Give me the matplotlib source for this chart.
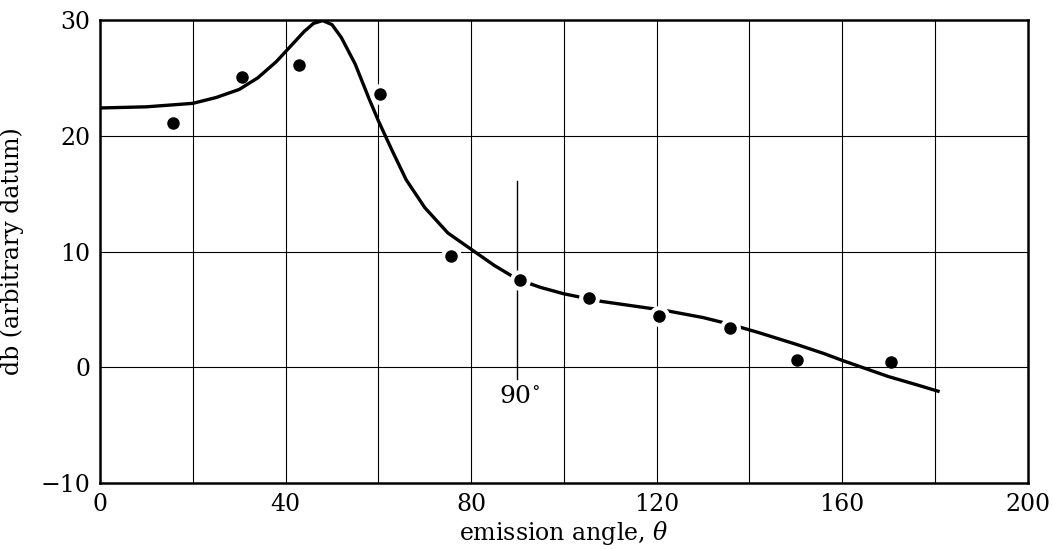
import matplotlib
matplotlib.use('Agg')
import matplotlib.pyplot as plt

# Measured dots
angle_pts = [15.7, 30.7, 42.9, 60.3, 75.6, 90.5, 105.5, 120.5, 135.9, 150.2, 170.5]
db_pts = [21.1, 25.1, 26.1, 23.6, 9.65, 7.55, 6.0, 4.4, 3.4, 0.65, 0.5]

# Smooth curve
angle_curve = [0, 10, 20, 25, 30, 34, 38, 41, 44, 46, 48, 50, 52, 55, 58, 60, 63,
               66, 70, 75, 80, 85, 90, 95, 100, 108, 115, 122, 130, 136, 142, 150,
               156, 160, 165, 170, 176, 181]
db_curve = [22.4, 22.5, 22.8, 23.3, 24.0, 25.0, 26.4, 27.7, 29.0, 29.7, 29.95, 29.6,
            28.5, 26.2, 23.2, 21.3, 18.7, 16.2, 13.8, 11.6, 10.2, 8.8, 7.6, 6.9,
            6.35, 5.7, 5.3, 4.9, 4.3, 3.7, 3.0, 2.0, 1.2, 0.6, -0.1, -0.8, -1.5, -2.1]

x_ticks = [0, 40, 80, 120, 160, 200]
y_ticks = [-10, 0, 10, 20, 30]

plt.rcParams['font.family'] = 'DejaVu Serif'
plt.rcParams['mathtext.fontset'] = 'dejavuserif'

fig = plt.figure(figsize=(10.53, 5.49), dpi=100)
ax = fig.add_axes([0.095, 0.12, 0.881, 0.8436])

ax.set_xlim(0, 200)
ax.set_ylim(-10, 30)

# grid every 20 / 10
for gx in range(20, 200, 20):
    ax.axvline(gx, color='black', lw=0.8, zorder=1)
for gy in range(0, 30, 10):
    ax.axhline(gy, color='black', lw=0.8, zorder=1)

# 90 degree marker
ax.plot([90, 90], [-1.0, 16.1], color='black', lw=1.0, zorder=2)
ax.text(90.5, -2.5, r'$90^{\circ}$', fontsize=18, ha='center', va='center', zorder=5)

ax.plot(angle_curve, db_curve, color='black', lw=2.4, zorder=3,
        solid_capstyle='butt', solid_joinstyle='round')

# white halo breaks the curve / grid around dots
ax.plot(angle_pts[3:9], db_pts[3:9], 'o', ms=15, color='white', mec='none', zorder=4)
ax.plot(angle_pts, db_pts, 'o', ms=9, color='black', mec='none', zorder=5)

ax.set_xticks(x_ticks)
ax.set_yticks(y_ticks)
ax.set_yticklabels(['\u221210', '0', '10', '20', '30'])
ax.tick_params(length=0, labelsize=17, pad=7)
for s in ax.spines.values():
    s.set_linewidth(1.8)
    s.set_zorder(6)

ax.set_xlabel(r'emission angle, $\theta$', fontsize=17, labelpad=2)
ax.set_ylabel('db (arbitrary datum)', fontsize=17, labelpad=12)

fig.savefig('out.png', dpi=100)
